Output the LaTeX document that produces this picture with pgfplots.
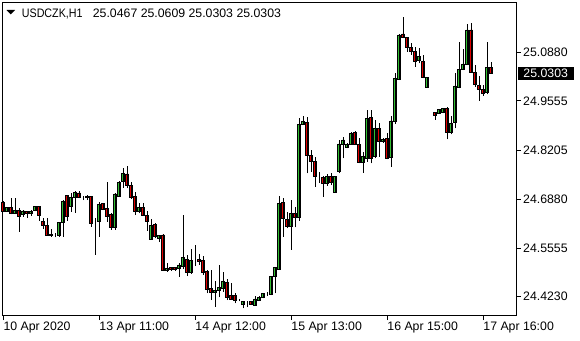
\documentclass[border=0pt]{standalone}
\usepackage{fontspec}
\setmainfont{Liberation Sans}
\newfontfamily\titlefont[FakeStretch=0.87]{Liberation Sans}
\usepackage{pgfplots}
\pgfplotsset{compat=1.18}
\usepackage{pgfplotstable}
\definecolor{bull}{RGB}{50,190,50}
\definecolor{bear}{RGB}{225,0,0}
\pgfplotstableread{
i o h l c
0 24.6788 24.6834 24.6562 24.6562
1 24.6554 24.6663 24.6554 24.6663
2 24.6663 24.6908 24.6472 24.6499
3 24.6499 24.6908 24.6480 24.6589
4 24.6589 24.6635 24.5999 24.6407
5 24.6472 24.6589 24.6407 24.6562
6 24.6554 24.6570 24.6380 24.6488
7 24.6488 24.6589 24.6434 24.6554
8 24.6570 24.6706 24.6554 24.6690
9 24.6690 24.6690 24.6298 24.6434
10 24.6282 24.6371 24.6072 24.6162
11 24.6173 24.6371 24.5890 24.5901
12 24.5928 24.6072 24.5863 24.5890
13 24.5909 24.5972 24.5846 24.5909
14 24.5909 24.6271 24.5863 24.6254
15 24.6254 24.6861 24.5863 24.6826
16 24.6989 24.7005 24.6298 24.6407
17 24.6679 24.7060 24.6543 24.6935
18 24.6924 24.7106 24.6516 24.7060
19 24.7052 24.7106 24.6908 24.6935
20 24.6935 24.6970 24.6861 24.6935
21 24.6962 24.6989 24.6861 24.6924
22 24.6962 24.6978 24.6135 24.6216
23 24.6254 24.6363 24.5365 24.6254
24 24.6271 24.6815 24.5863 24.6744
25 24.6771 24.6788 24.6589 24.6616
26 24.6635 24.7351 24.6271 24.6407
27 24.6472 24.6499 24.6045 24.6118
28 24.6108 24.7044 24.6045 24.7025
29 24.6970 24.7370 24.6943 24.7343
30 24.7359 24.7724 24.7196 24.7588
31 24.7569 24.7786 24.7180 24.7250
32 24.7261 24.7351 24.6897 24.6943
33 24.6951 24.7087 24.6453 24.6543
34 24.6543 24.6771 24.6499 24.6663
35 24.6663 24.6771 24.6434 24.6445
36 24.6445 24.6570 24.6026 24.6271
37 24.5792 24.6336 24.5773 24.6173
38 24.6200 24.6227 24.5819 24.5863
39 24.5808 24.5909 24.5718 24.5901
40 24.5909 24.5928 24.4929 24.4957
41 24.4938 24.5139 24.4910 24.5003
42 24.5019 24.5046 24.4938 24.4965
43 24.5019 24.5046 24.4938 24.4965
44 24.5003 24.5139 24.4774 24.5093
45 24.5065 24.6453 24.4992 24.5302
46 24.5248 24.5373 24.4793 24.4883
47 24.4883 24.5520 24.4848 24.5221
48 24.5229 24.5637 24.5065 24.5229
49 24.5248 24.5392 24.5093 24.5182
50 24.5221 24.5338 24.4821 24.4883
51 24.4910 24.4957 24.4323 24.4440
52 24.4459 24.4957 24.4140 24.4339
53 24.4339 24.4657 24.3958 24.4412
54 24.4393 24.5093 24.4214 24.4475
55 24.4459 24.4910 24.4366 24.4657
56 24.4622 24.4704 24.4140 24.4203
57 24.4276 24.4595 24.4140 24.4168
58 24.4276 24.4323 24.4051 24.4140
59 24.4140 24.4168 24.4105 24.4140
60 24.4023 24.4113 24.3915 24.4113
61 24.4094 24.4113 24.3942 24.4094
62 24.4113 24.4113 24.4023 24.4023
63 24.4004 24.4249 24.3985 24.4168
64 24.4140 24.4257 24.4121 24.4214
65 24.4214 24.4339 24.4187 24.4312
66 24.4312 24.4366 24.4257 24.4312
67 24.4304 24.4793 24.4276 24.4774
68 24.4774 24.5046 24.4323 24.5030
69 24.4984 24.6970 24.4957 24.6771
70 24.6788 24.6908 24.5863 24.6363
71 24.6344 24.6543 24.6091 24.6135
72 24.6135 24.6861 24.5501 24.6499
73 24.6499 24.6679 24.6118 24.6391
74 24.6391 24.9084 24.6298 24.8929
75 24.8921 24.9147 24.8902 24.9003
76 24.8975 24.9128 24.7588 24.8067
77 24.8067 24.8222 24.7631 24.7903
78 24.7922 24.8039 24.7223 24.7495
79 24.7495 24.7615 24.7332 24.7495
80 24.7479 24.7514 24.6951 24.7316
81 24.7316 24.7561 24.7250 24.7514
82 24.7514 24.7588 24.7269 24.7332
83 24.7071 24.7514 24.7060 24.7514
84 24.7631 24.8494 24.7588 24.8385
85 24.8377 24.8567 24.7996 24.8494
86 24.8295 24.8420 24.8268 24.8377
87 24.8377 24.8720 24.8358 24.8676
88 24.8703 24.8739 24.8358 24.8377
89 24.8377 24.8556 24.7860 24.7876
90 24.7876 24.8175 24.7604 24.8058
91 24.7996 24.9310 24.7903 24.9084
92 24.9111 24.9310 24.7860 24.7996
93 24.8039 24.9038 24.7996 24.8812
94 24.8812 24.8948 24.8039 24.8448
95 24.8448 24.8540 24.8420 24.8513
96 24.8540 24.8676 24.7969 24.7996
97 24.8023 24.9147 24.7767 24.9011
98 24.8992 25.0309 24.8929 25.0173
99 25.0154 25.1378 25.0126 25.1351
100 25.1378 25.1832 25.1261 25.1288
101 25.1288 25.1304 25.0896 25.1016
102 25.1016 25.1125 25.0807 25.0896
103 25.0896 25.1032 25.0488 25.0624
104 25.0651 25.0989 25.0581 25.0779
105 25.0643 25.0807 25.0173 25.0189
106 24.9917 25.0189 24.9917 25.0189
107 24.9764 24.9764 24.9764 24.9764
108 24.9237 24.9237 24.9038 24.9174
109 24.9220 24.9329 24.9220 24.9329
110 24.9247 24.9356 24.9220 24.9356
111 24.9356 24.9400 24.8513 24.8703
112 24.8703 24.9147 24.8649 24.8948
113 24.8965 25.0309 24.8812 24.9963
114 24.9928 25.1152 24.9900 25.0417
115 25.0417 25.0962 25.0398 25.0562
116 25.0562 25.1650 25.0534 25.1487
117 25.1487 25.1685 25.0325 25.0336
118 25.0336 25.0534 24.9944 25.0017
119 24.9990 25.0235 24.9563 24.9873
120 24.9873 24.9990 24.9691 24.9764
121 24.9781 25.1152 24.9737 25.0472
122 25.0467 25.0609 25.0303 25.0303
}\ohlc
\begin{document}
\begin{tikzpicture}[x=1bp,y=1bp,font=\fontsize{12.3bp}{14bp}\selectfont]
\useasboundingbox (0,0) rectangle (580,340);
\begin{axis}[
  at={(2bp,24.3bp)}, anchor=south west,
  scale only axis, width=514bp, height=313.2bp,
  xmin=-0.33, xmax=128.2, ymin=24.3713, ymax=25.2235,
  enlargelimits=false, clip=false,
  ybar stacked, bar width=0.72,
  axis line style={black, line width=1bp},
  tick style={black, line width=1bp},
  tick align=outside, major tick length=4.5bp,
  xtick pos=left, ytick pos=right, yticklabel pos=right,
  xtick={0,24,48,72,96,120},
  xticklabels={10 Apr 2020,13 Apr 11:00,14 Apr 12:00,15 Apr 13:00,16 Apr 15:00,17 Apr 16:00},
  ytick={24.4230,24.5555,24.6880,24.8205,24.9555,25.0880},
  yticklabels={24.4230,24.5555,24.6880,24.8205,24.9555,25.0880},
  tick label style={font=\fontsize{12.3bp}{14bp}\selectfont, black},
  xticklabel style={anchor=north west, inner sep=0pt, yshift=-2bp},
  yticklabel style={anchor=west, inner sep=0pt, xshift=2.5bp},
  minor tick num=0,
]
\addplot[draw=none, fill=none,
  error bars/.cd, y dir=plus, y explicit, error mark=none,
  error bar style={draw=black, line width=1bp}]
  table[x=i, y=l, y error expr={\thisrow{h}-\thisrow{l}}] {\ohlc};
\addplot[draw=none, fill=none]
  table[x=i, y expr={min(\thisrow{o},\thisrow{c})-\thisrow{l}}] {\ohlc};
\addplot[draw=black, line width=0.8bp, fill=bull]
  table[x=i, y expr={max(\thisrow{c}-\thisrow{o},0)}] {\ohlc};
\addplot[draw=black, line width=0.8bp, fill=bear]
  table[x=i, y expr={max(\thisrow{o}-\thisrow{c},0)}] {\ohlc};
\end{axis}
\fill[black] (6.5,330) -- (15,330) -- (10.75,325.7) -- cycle;
\node[anchor=base west, inner sep=0pt] at (21.7,322.7) {\titlefont USDCZK,H1};
\node[anchor=base west, inner sep=0pt] at (92.7,322.7) {25.0467 25.0609 25.0303 25.0303};
\node[fill=black, text=white, anchor=west, inner sep=0pt, minimum width=55.6bp, minimum height=13.3bp] at (517.7,266.7) {25.0303};
\end{tikzpicture}
\end{document}
